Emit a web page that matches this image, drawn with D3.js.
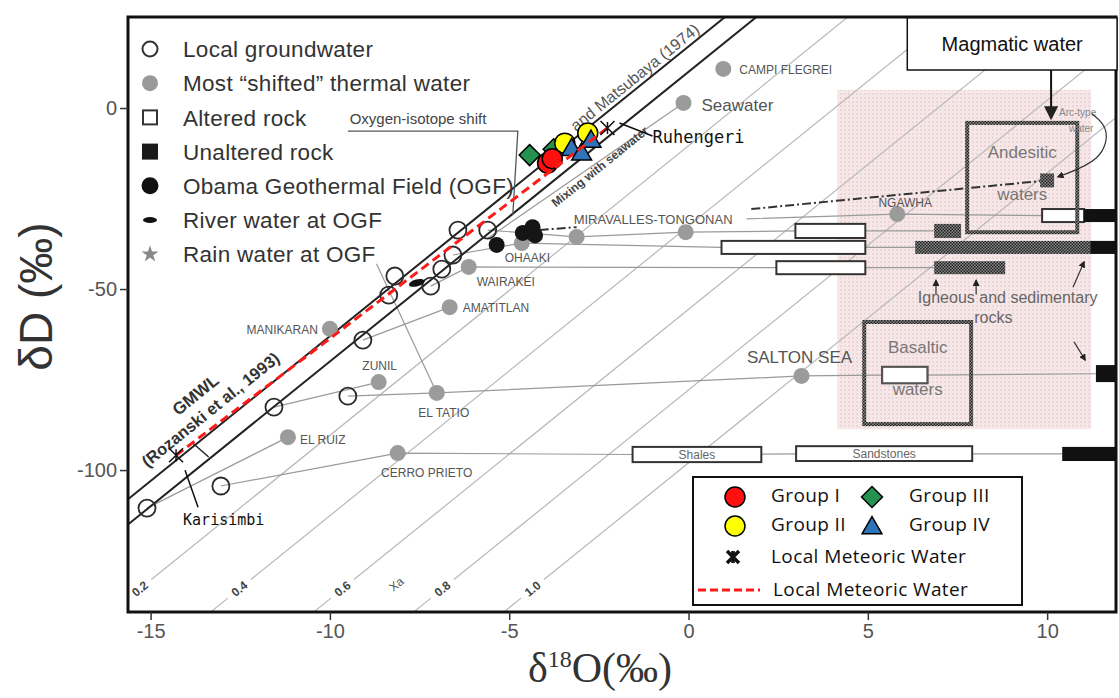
<!DOCTYPE html>
<html>
<head>
<meta charset="utf-8">
<script src="https://cdn.jsdelivr.net/npm/d3@7"></script>
<style>
  body { margin: 0; background: #fff; }
  svg { font-family: "Liberation Sans", Arial, sans-serif; }
</style>
</head>
<body>
<div id="chart"></div>
<script>
// ---- data: [δ18O, δD] in permil ----
const groundwater = [
    [-15.10, -110.5], [-13.04, -104.4], [-11.56, -82.6], [-9.50, -79.6],
    [-9.08, -64.1], [-8.36, -51.7], [-8.19, -46.4], [-7.19, -49.2],
    [-6.88, -44.5], [-6.57, -40.6], [-6.43, -33.7], [-5.60, -33.7]
];
const thermalWaters = [
    ['CAMPI FLEGREI', 0.97, 10.8], ['Seawater', -0.14, 1.4], ['NGAWHA', 5.82, -29.3],
    ['MIRAVALLES-TONGONAN', -3.12, -35.6], ['MIRAVALLES-TONGONAN', -0.08, -34.3],
    ['OHAAKI', -4.65, -37.3], ['WAIRAKEI', -6.13, -43.9], ['AMATITLAN', -6.66, -55.0],
    ['MANIKARAN', -10.0, -61.0], ['ZUNIL', -8.64, -75.7], ['EL TATIO', -7.02, -78.7],
    ['SALTON SEA', 3.15, -74.0], ['EL RUIZ', -11.17, -90.9], ['CERRO PRIETO', -8.11, -95.3]
];
const ogf = [[-5.35, -37.8], [-4.62, -34.5], [-4.35, -32.9], [-4.28, -35.2]];
const riverWater = [[-7.58, -48.3]];
const group1 = [[-3.93, -15.2], [-3.80, -14.0]];
const group2 = [[-3.45, -9.7], [-2.81, -6.9]];
const group3 = [[-4.43, -13.0], [-3.76, -11.4]];
const group4 = [[-3.26, -11.0], [-2.98, -12.2], [-2.72, -8.7]];
const localMeteoric = [['Karisimbi', -14.29, -95.9], ['Ruhengeri', -2.26, -5.5]];

// meteoric water lines: dD = 8*d18O + b
const mwlSlope = 8;
const mwlIntercepts = [10, 17];
// Xa lines (parallel, labelled)
const xaLabels = ['0.2', '0.4', '0.6', '0.8', '1.0'];
const xaIntercepts = [-10.4, -32.6, -55.6, -77.9, -98];

// rock ranges [o1, o2, d1, d2]
const alteredRock = [
    [9.86, 11.03, -27.9, -31.5], [2.98, 4.93, -32.0, -35.9], [0.92, 4.93, -36.7, -40.3],
    [2.45, 4.93, -42.3, -45.9], [5.40, 6.66, -71.5, -76.0]
];
const sediments = [['Shales', -1.56, 2.03, -93.6, -97.8], ['Sandstones', 3.0, 7.91, -93.4, -97.5]];
const unalteredRock = [
    [11.03, 11.92, -27.9, -31.5], [11.2, 11.92, -36.7, -40.3],
    [11.36, 11.92, -71.0, -75.7], [10.42, 11.92, -93.6, -97.5]
];
const igneousRock = [[6.85, 7.6, -32.0, -35.9], [6.32, 11.2, -36.7, -40.3], [6.85, 8.83, -42.3, -45.9]];
const magmaticRegion = [4.15, 11.23, 5.0, -88.7];
const andesiticBox = [7.77, 10.84, -4.1, -34.3];
const basalticBox = [4.90, 7.88, -59.1, -87.3];
const arcWater = [[10.0, -20.0]];

// mixing lines between end members
const mixingLines = [
    [[-5.60, -33.7], [-3.12, -35.6], [-0.08, -34.3], [2.98, -33.95]],
    [[4.93, -33.95], [6.85, -33.95]],
    [[1.62, -30.6], [5.82, -29.3], [9.86, -29.7]],
    [[-6.57, -40.6], [-4.65, -37.3], [0.92, -38.5]],
    [[4.93, -38.5], [6.32, -38.5]],
    [[-7.19, -49.2], [-6.13, -43.9], [2.45, -44.1]],
    [[4.93, -44.1], [6.85, -44.1]],
    [[-9.08, -64.1], [-6.66, -55.0]],
    [[-11.56, -82.6], [-8.64, -75.7]],
    [[-9.50, -79.6], [-7.02, -78.7], [3.15, -74.0], [5.40, -73.75]],
    [[6.66, -73.75], [11.36, -73.4]],
    [[-7.02, -78.7], [-8.7, -43.0]],
    [[-15.10, -110.5], [-11.17, -90.9]],
    [[-13.04, -104.4], [-8.11, -95.3], [-1.56, -95.7]],
    [[2.03, -95.6], [3.0, -95.5]],
    [[7.91, -95.5], [10.42, -95.5]],
    [[-5.6, -36.0], [-0.14, 1.4]]
];
const dashDotLines = [
    [[-4.15, -33.7], [-3.12, -32.9]],
    [[1.75, -27.9], [10.0, -20.0]]
];
const shiftBracket = [[-9.5, -6.4], [-4.76, -6.4], [-4.9, -29.6]];

const legendLabels = ['Local groundwater', 'Most \u201cshifted\u201d thermal water', 'Altered rock',
    'Unaltered rock', 'Obama Geothermal Field (OGF)', 'River water at OGF', 'Rain water at OGF'];
const groupLabels = ['Group I', 'Group II', 'Group III', 'Group IV'];
const xTicks = [-15, -10, -5, 0, 5, 10];
const yTicks = [0, -50, -100];

// ---- chart ----
const W = 1119, H = 698;
const margin = { top: 17, right: 3, bottom: 86, left: 128 };
const width = W - margin.left - margin.right;
const height = H - margin.top - margin.bottom;

const svg = d3.select('#chart').append('svg').attr('width', W).attr('height', H);
const defs = svg.append('defs');
defs.append('clipPath').attr('id', 'clip').append('rect').attr('width', width).attr('height', height);

const hatch = defs.append('pattern').attr('id', 'hatch').attr('width', 3).attr('height', 3)
    .attr('patternUnits', 'userSpaceOnUse');
hatch.append('rect').attr('width', 3).attr('height', 3).attr('fill', '#888');
hatch.append('rect').attr('width', 1.5).attr('height', 1.5).attr('fill', '#222');
hatch.append('rect').attr('x', 1.5).attr('y', 1.5).attr('width', 1.5).attr('height', 1.5).attr('fill', '#222');

const pink = defs.append('pattern').attr('id', 'pink').attr('width', 4).attr('height', 4)
    .attr('patternUnits', 'userSpaceOnUse');
pink.append('rect').attr('width', 4).attr('height', 4).attr('fill', '#f6e8e8');
pink.append('rect').attr('width', 2).attr('height', 2).attr('fill', '#eed6d6');

function addArrow(id, size) {
    defs.append('marker').attr('id', id).attr('viewBox', '0 0 10 10')
        .attr('refX', 8).attr('refY', 5).attr('markerWidth', size).attr('markerHeight', size)
        .attr('markerUnits', 'userSpaceOnUse').attr('orient', 'auto')
        .append('path').attr('d', 'M0,0L10,5L0,10z').attr('fill', '#222');
}
addArrow('arrow-big', 14);
addArrow('arrow-small', 7);

const g = svg.append('g').attr('transform', `translate(${margin.left},${margin.top})`);

const x = d3.scaleLinear().domain([-15.63, 11.92]).range([0, width]);
const y = d3.scaleLinear().domain([-139.2, 25.14]).range([height, 0]);
const line = d3.line().x(d => x(d[0])).y(d => y(d[1]));
const angle = -Math.atan(mwlSlope * (y(0) - y(1)) / (x(1) - x(0))) * 180 / Math.PI;

const plot = g.append('g').attr('clip-path', 'url(#clip)');

function box(sel, r) {
    return sel.append('rect')
        .attr('x', x(r[0])).attr('y', y(r[2]))
        .attr('width', x(r[1]) - x(r[0])).attr('height', y(r[3]) - y(r[2]));
}

// magmatic / rock region background
box(plot, magmaticRegion).attr('fill', 'url(#pink)');

// Xa lines with labels
const xaD = -132.8;
xaIntercepts.forEach((c, i) => {
    const o0 = (xaD - c) / mwlSlope;
    const segs = [[-16, o0 - 0.32], [o0 + 0.32, 13]];
    segs.forEach(s => {
        plot.append('path')
            .attr('d', line(s.map(o => [o, mwlSlope * o + c])))
            .attr('fill', 'none').attr('stroke', '#b8b8b8').attr('stroke-width', 1.2);
    });
    plot.append('text')
        .attr('transform', `translate(${x(o0)},${y(xaD)}) rotate(${angle})`)
        .attr('text-anchor', 'middle').attr('dy', '0.35em')
        .style('font-size', '12px').style('font-weight', 'bold').attr('fill', '#444')
        .text(xaLabels[i]);
});
plot.append('text')
    .attr('transform', `translate(${x(-8.15)},${y(-131.5)}) rotate(${angle})`)
    .attr('text-anchor', 'middle').attr('dy', '0.35em')
    .style('font-size', '12px').attr('fill', '#555').text('Xa');

// mixing lines
plot.selectAll('.mix').data(mixingLines).enter().append('path')
    .attr('d', line).attr('fill', 'none').attr('stroke', '#9a9a9a').attr('stroke-width', 1.2);
plot.selectAll('.dd').data(dashDotLines).enter().append('path')
    .attr('d', line).attr('fill', 'none').attr('stroke', '#333').attr('stroke-width', 2)
    .attr('stroke-dasharray', '9,3,2,3');

// rock bars
alteredRock.forEach(r => box(plot, r).attr('fill', '#fff').attr('stroke', '#333').attr('stroke-width', 2));
sediments.forEach(s => {
    box(plot, s.slice(1)).attr('fill', '#fff').attr('stroke', '#333').attr('stroke-width', 2);
    plot.append('text').attr('x', (x(s[1]) + x(s[2])) / 2).attr('y', (y(s[3]) + y(s[4])) / 2)
        .attr('dy', '0.38em').attr('text-anchor', 'middle')
        .style('font-size', '12px').attr('fill', '#666').text(s[0]);
});
igneousRock.forEach(r => box(plot, r).attr('fill', 'url(#hatch)'));
unalteredRock.forEach(r => box(plot, r).attr('fill', '#111'));

// andesitic / basaltic water boxes
[[andesiticBox, 'Andesitic'], [basalticBox, 'Basaltic']].forEach(([b, name]) => {
    box(plot, b).attr('fill', 'none').attr('stroke', 'url(#hatch)').attr('stroke-width', 4);
    const cx = (x(b[0]) + x(b[1])) / 2;
    const cy = (y(b[2]) + y(b[3])) / 2;
    plot.append('text').attr('x', cx).attr('y', cy - 20).attr('text-anchor', 'middle')
        .style('font-size', '17px').attr('fill', '#777').text(name);
    plot.append('text').attr('x', cx).attr('y', cy + 22).attr('text-anchor', 'middle')
        .style('font-size', '17px').attr('fill', '#777').text('waters');
});
box(plot, alteredRock[4]).attr('fill', '#fff').attr('stroke', '#555').attr('stroke-width', 2);
plot.selectAll('.arc').data(arcWater).enter().append('rect')
    .attr('x', d => x(d[0]) - 7).attr('y', d => y(d[1]) - 7).attr('width', 14).attr('height', 14)
    .attr('fill', 'url(#hatch)');
plot.append('text').attr('x', x(10.85)).attr('y', y(-2.2)).attr('text-anchor', 'middle')
    .style('font-size', '10px').attr('fill', '#888').text('Arc-type');
plot.append('text').attr('x', x(10.95)).attr('y', y(-6.5)).attr('text-anchor', 'middle')
    .style('font-size', '10px').attr('fill', '#888').text('water');
plot.append('path')
    .attr('d', d3.line().x(d => x(d[0])).y(d => y(d[1])).curve(d3.curveBasis)(
        [[11.25, -1.6], [11.75, -5.5], [11.55, -14.5], [10.3, -19.0]]))
    .attr('fill', 'none').attr('stroke', '#333').attr('stroke-width', 1.2)
    .attr('marker-end', 'url(#arrow-small)');
[[[6.9, -51.5], [6.9, -47.6]], [[8.02, -51.5], [8.02, -47.6]],
 [[10.72, -49.5], [11.03, -42.5]], [[10.75, -64.6], [11.06, -69.6]]].forEach(a => {
    plot.append('path').attr('d', line(a)).attr('stroke', '#333').attr('stroke-width', 1.2)
        .attr('marker-end', 'url(#arrow-small)');
});
plot.append('text').attr('x', x(8.9)).attr('y', y(-53.8)).attr('text-anchor', 'middle')
    .style('font-size', '16px').attr('fill', '#666').text('Igneous and sedimentary');
plot.append('text').attr('x', x(8.5)).attr('y', y(-59.3)).attr('text-anchor', 'middle')
    .style('font-size', '16px').attr('fill', '#666').text('rocks');

// meteoric water lines
mwlIntercepts.forEach(b => {
    plot.append('path').attr('d', line([[-17, mwlSlope * -17 + b], [13, mwlSlope * 13 + b]]))
        .attr('stroke', '#222').attr('stroke-width', 2);
});
plot.append('path').attr('d', line([[-13.82, -92.6], [-13.38, -96.4]]))
    .attr('stroke', '#222').attr('stroke-width', 1.5);

function rotText(px, py, txt, size, weight, fill) {
    return plot.append('text')
        .attr('transform', `translate(${px},${py}) rotate(${angle})`)
        .attr('text-anchor', 'middle').attr('dy', '0.35em')
        .style('font-size', size + 'px').style('font-weight', weight).attr('fill', fill).text(txt);
}
rotText(x(-13.75), y(-79.2), 'GMWL', 17, 'bold', '#333');
rotText(x(-13.33), y(-83.3), '(Rozanski et al., 1993)', 16.5, 'bold', '#333');
rotText(x(-1.5), y(8.5), 'and Matsubaya (1974)', 16, 'normal', '#555');
plot.append('text')
    .attr('transform', `translate(${x(-3.7)},${y(-27.5)}) rotate(${angle})`)
    .style('font-size', '12px').style('font-weight', 'bold').attr('fill', '#444')
    .text('Mixing with seawater');

// oxygen-isotope shift bracket
plot.append('path').attr('d', line(shiftBracket)).attr('fill', 'none')
    .attr('stroke', '#555').attr('stroke-width', 1.3);
plot.append('text').attr('x', x(-9.45)).attr('y', y(-4.3))
    .style('font-size', '15px').attr('fill', '#444').text('Oxygen-isotope shift');

// thermal waters
plot.selectAll('.thermal').data(thermalWaters).enter().append('circle')
    .attr('cx', d => x(d[1])).attr('cy', d => y(d[2])).attr('r', 8).attr('fill', '#9b9b9b');
const thermalLabelPos = {
    'CAMPI FLEGREI': [16, 5, 'start', 12], 'Seawater': [18, 8, 'start', 17],
    'NGAWHA': [8, -7, 'middle', 12], 'MIRAVALLES-TONGONAN': [-3, -13, 'start', 13],
    'OHAAKI': [-17, 19, 'start', 12], 'WAIRAKEI': [8, 19, 'start', 12],
    'AMATITLAN': [13, 5, 'start', 12], 'MANIKARAN': [-12, 5, 'end', 12],
    'ZUNIL': [1, -12, 'middle', 12], 'EL TATIO': [7, 24, 'middle', 12],
    'SALTON SEA': [-2, -13, 'middle', 17], 'EL RUIZ': [12, 7, 'start', 12],
    'CERRO PRIETO': [29, 24, 'middle', 12]
};
const labelled = new Set();
thermalWaters.forEach(d => {
    if (labelled.has(d[0])) return;
    labelled.add(d[0]);
    const p = thermalLabelPos[d[0]];
    plot.append('text').attr('x', x(d[1]) + p[0]).attr('y', y(d[2]) + p[1])
        .attr('text-anchor', p[2]).style('font-size', p[3] + 'px').attr('fill', '#555')
        .text(d[0]);
});

// local groundwater
plot.selectAll('.gw').data(groundwater).enter().append('circle')
    .attr('cx', d => x(d[0])).attr('cy', d => y(d[1])).attr('r', 8.5)
    .attr('fill', 'none').attr('stroke', '#2a2a2a').attr('stroke-width', 1.8);

// OGF
plot.selectAll('.ogf').data(ogf).enter().append('circle')
    .attr('cx', d => x(d[0])).attr('cy', d => y(d[1])).attr('r', 8).attr('fill', '#151515');
plot.selectAll('.river').data(riverWater).enter().append('ellipse')
    .attr('cx', d => x(d[0])).attr('cy', d => y(d[1])).attr('rx', 8).attr('ry', 3.5)
    .attr('transform', d => `rotate(-15,${x(d[0])},${y(d[1])})`).attr('fill', '#111');

// sample groups
const diamond = d3.symbol().type(d3.symbolSquare).size(220);
const triangle = d3.symbol().type(d3.symbolTriangle).size(170);
function drawGroup(data, kind, fill) {
    data.forEach(d => {
        const px = x(d[0]), py = y(d[1]);
        if (kind === 'circle') {
            plot.append('circle').attr('cx', px).attr('cy', py).attr('r', 10)
                .attr('fill', fill).attr('stroke', '#000').attr('stroke-width', 1.5);
        } else if (kind === 'diamond') {
            plot.append('path').attr('d', diamond())
                .attr('transform', `translate(${px},${py}) rotate(45)`)
                .attr('fill', fill).attr('stroke', '#000').attr('stroke-width', 1.5);
        } else {
            plot.append('path').attr('d', triangle())
                .attr('transform', `translate(${px},${py + 2})`)
                .attr('fill', fill).attr('stroke', '#000').attr('stroke-width', 1.5);
        }
    });
}
drawGroup(group3, 'diamond', '#23934f');
drawGroup(group1, 'circle', '#ff1010');
drawGroup(group2, 'circle', '#ffff00');
drawGroup(group4, 'triangle', '#2f73b8');

// local meteoric water line
plot.append('path').attr('d', line(localMeteoric.map(d => [d[1], d[2]])))
    .attr('stroke', '#ff1a1a').attr('stroke-width', 3).attr('stroke-dasharray', '9,5');

const crossPath = 'M-7,-7L7,7M-7,7L7,-7M0,-6L0,6';
localMeteoric.forEach(d => {
    const px = x(d[1]), py = y(d[2]);
    plot.append('path').attr('d', crossPath).attr('transform', `translate(${px},${py})`)
        .attr('stroke', '#111').attr('stroke-width', 1.5).attr('fill', 'none');
});
const kar = localMeteoric[0], ruh = localMeteoric[1];
plot.append('path').attr('d', `M${x(kar[1]) + 9},${y(kar[2]) + 15}L${x(kar[1]) + 22},${y(kar[2]) + 52}`)
    .attr('stroke', '#111').attr('stroke-width', 1.5);
plot.append('text').attr('x', x(kar[1]) + 7).attr('y', y(kar[2]) + 70)
    .style('font-family', '"DejaVu Sans Mono", monospace').style('font-size', '15px')
    .attr('fill', '#111').text(kar[0]);
plot.append('path').attr('d', `M${x(ruh[1]) + 12},${y(ruh[2]) - 5}L${x(ruh[1]) + 45},${y(ruh[2]) + 8}`)
    .attr('stroke', '#111').attr('stroke-width', 1.5);
plot.append('text').attr('x', x(ruh[1]) + 45).attr('y', y(ruh[2]) + 15)
    .style('font-family', '"DejaVu Sans Mono", monospace').style('font-size', '17px')
    .attr('fill', '#111').text(ruh[0]);

// frame
g.append('rect').attr('width', width).attr('height', height)
    .attr('fill', 'none').attr('stroke', '#111').attr('stroke-width', 3);

// axes
const xAxis = g.append('g').attr('transform', `translate(0,${height})`)
    .call(d3.axisBottom(x).tickValues(xTicks).tickSize(8).tickPadding(4).tickFormat(d => String(d)));
const yAxis = g.append('g')
    .call(d3.axisLeft(y).tickValues(yTicks).tickSize(8).tickPadding(3).tickFormat(d => String(d)));
[xAxis, yAxis].forEach(a => {
    a.select('.domain').remove();
    a.selectAll('line').attr('stroke', '#333').attr('stroke-width', 1.5);
    a.selectAll('text').style('font-size', '20px').attr('fill', '#555')
        .style('font-family', '"Liberation Sans", Arial, sans-serif');
});

// magmatic water callout
const mag = [6.1, 11.95, 24.9, 10.5];
box(g, mag).attr('fill', '#fff').attr('stroke', '#111').attr('stroke-width', 1.5);
g.append('text').attr('x', (x(mag[0]) + x(mag[1])) / 2).attr('y', y(17.7)).attr('dy', '0.35em')
    .attr('text-anchor', 'middle').style('font-size', '20px').attr('fill', '#111').text('Magmatic water');
g.append('path').attr('d', line([[10.11, 10.5], [10.11, -2.6]]))
    .attr('stroke', '#111').attr('stroke-width', 2).attr('marker-end', 'url(#arrow-big)');

// legend, top left
const leg = g.append('g').attr('transform', 'translate(22,32)');
legendLabels.forEach((t, i) => {
    const cy = i * 34.2;
    const item = leg.append('g').attr('transform', `translate(0,${cy})`);
    if (i === 0) item.append('circle').attr('r', 7.5).attr('fill', '#fff').attr('stroke', '#333').attr('stroke-width', 2);
    if (i === 1) item.append('circle').attr('r', 8).attr('fill', '#999');
    if (i === 2) item.append('rect').attr('x', -7).attr('y', -7).attr('width', 14).attr('height', 14)
        .attr('fill', '#fff').attr('stroke', '#333').attr('stroke-width', 2);
    if (i === 3) item.append('rect').attr('x', -8).attr('y', -8).attr('width', 16).attr('height', 16).attr('fill', '#1a1a1a');
    if (i === 4) item.append('circle').attr('r', 8.5).attr('fill', '#111');
    if (i === 5) item.append('ellipse').attr('rx', 7).attr('ry', 3).attr('fill', '#111');
    if (i === 6) item.append('path').attr('d', d3.symbol().type(d3.symbolStar).size(90)()).attr('fill', '#888');
    item.append('text').attr('x', 33).attr('dy', '0.36em')
        .style('font-size', '22.5px').style('letter-spacing', '0.3px').attr('fill', '#333').text(t);
});

// legend, bottom right
const lg = g.append('g').attr('transform', 'translate(565,460)');
lg.append('rect').attr('width', 329).attr('height', 128).attr('fill', '#fff')
    .attr('stroke', '#111').attr('stroke-width', 2);
const lfont = '"Open Sans", "Liberation Sans", sans-serif';
function legText(tx, ty, t) {
    lg.append('text').attr('x', tx).attr('y', ty).attr('dy', '0.35em')
        .style('font-family', lfont).style('font-size', '19px').style('letter-spacing', '0.4px')
        .attr('fill', '#111').text(t);
}
lg.append('circle').attr('cx', 42).attr('cy', 20).attr('r', 10).attr('fill', '#ff1010').attr('stroke', '#000').attr('stroke-width', 1.5);
lg.append('circle').attr('cx', 42).attr('cy', 49).attr('r', 10).attr('fill', '#ffff00').attr('stroke', '#000').attr('stroke-width', 1.5);
lg.append('path').attr('d', diamond()).attr('transform', 'translate(179,20) rotate(45)')
    .attr('fill', '#23934f').attr('stroke', '#000').attr('stroke-width', 1.5);
lg.append('path').attr('d', triangle()).attr('transform', 'translate(179,51)')
    .attr('fill', '#2f73b8').attr('stroke', '#000').attr('stroke-width', 1.5);
legText(78, 18, groupLabels[0]);
legText(78, 47, groupLabels[1]);
legText(216, 18, groupLabels[2]);
legText(216, 47, groupLabels[3]);
lg.append('path').attr('d', 'M-6,-6L6,6M-6,6L6,-6M0,-6L0,6').attr('transform', 'translate(40,80)')
    .attr('stroke', '#111').attr('stroke-width', 3.5);
legText(78, 79, 'Local Meteoric Water');
lg.append('path').attr('d', 'M5,113L67,113').attr('stroke', '#ff1a1a').attr('stroke-width', 3)
    .attr('stroke-dasharray', '8,4');
legText(80, 112, 'Local Meteoric Water');

// axis titles
svg.append('text').attr('transform', `translate(52,${margin.top + height / 2 - 18}) rotate(-90)`)
    .attr('text-anchor', 'middle').style('font-size', '46px').attr('fill', '#333')
    .text('\u03b4D (\u2030)');
const xt = svg.append('text').attr('x', 600).attr('y', 682).attr('text-anchor', 'middle')
    .style('font-family', '"Liberation Serif", "Times New Roman", serif')
    .style('font-size', '42px').attr('fill', '#333');
xt.append('tspan').text('\u03b4');
xt.append('tspan').attr('dy', -15).style('font-size', '24px').text('18');
xt.append('tspan').attr('dy', 15).text('O(\u2030)');
</script>
</body>
</html>
